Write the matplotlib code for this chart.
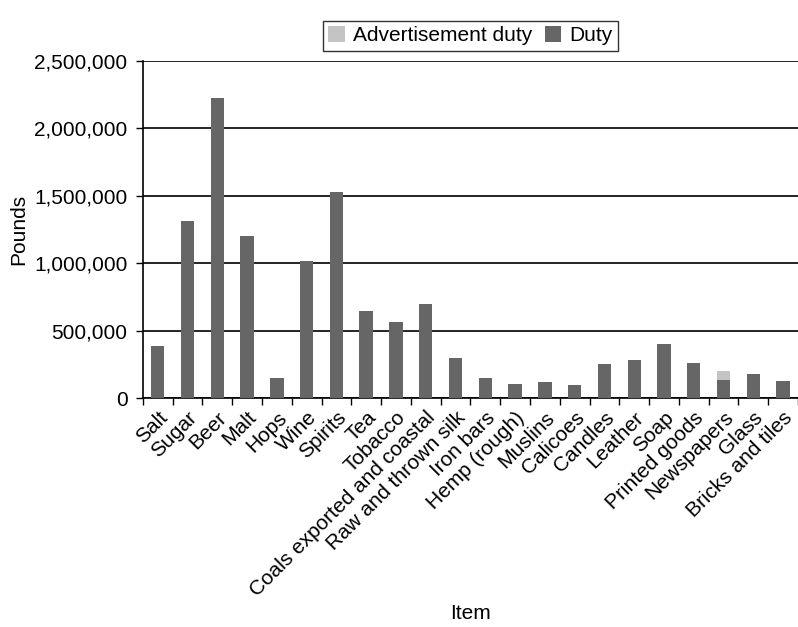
import matplotlib.pyplot as plt
import numpy as np
from matplotlib.ticker import FuncFormatter, FixedLocator

plt.rcParams['font.family'] = ['Liberation Sans', 'DejaVu Sans']
plt.rcParams['font.size'] = 15

items = ['Salt', 'Sugar', 'Beer', 'Malt', 'Hops', 'Wine', 'Spirits', 'Tea',
         'Tobacco', 'Coals exported and coastal', 'Raw and thrown silk',
         'Iron bars', 'Hemp (rough)', 'Muslins', 'Calicoes', 'Candles',
         'Leather', 'Soap', 'Printed goods', 'Newspapers', 'Glass',
         'Bricks and tiles']
duty = [383000, 1315000, 2228000, 1204000, 151000, 1019000, 1530000, 648000,
        566000, 700000, 299000, 148000, 103000, 118000, 95000, 253000,
        283000, 403000, 260000, 133000, 178000, 125000]
advert_duty = [0, 0, 0, 0, 0, 0, 0, 0, 0, 0, 0, 0, 0, 0, 0, 0,
               0, 0, 0, 67000, 0, 0]

fig = plt.figure(figsize=(7.98, 6.27), dpi=100)
ax = fig.add_axes([0.179, 0.365, 0.821, 0.538])

x = np.arange(len(items))
ax.bar(x, duty, width=0.45, color='#666666', label='Duty', zorder=3)
ax.bar(x, advert_duty, width=0.45, bottom=duty, color='#c4c4c4',
       label='Advertisement duty', zorder=3)

ax.set_xlim(-0.5, len(items) - 0.5)
ax.set_ylim(0, 2500000)
ax.set_yticks(np.arange(0, 2500001, 500000))
ax.yaxis.set_major_formatter(FuncFormatter(lambda v, p: f'{int(v):,}'))
ax.grid(axis='y', color='black', linewidth=1.2, zorder=1)

ax.set_xticks(x)
ax.set_xticklabels(items, rotation=45, ha='right', rotation_mode='anchor')
ax.xaxis.set_minor_locator(FixedLocator(np.arange(-0.5, len(items), 1)))
ax.tick_params(axis='x', which='major', length=0, pad=7)
ax.tick_params(axis='x', which='minor', length=5, width=1, direction='out')
ax.tick_params(axis='y', length=5, width=1, direction='out', pad=6)

for s in ['top', 'right']:
    ax.spines[s].set_visible(False)
ax.spines['left'].set_linewidth(1.2)
ax.spines['bottom'].set_linewidth(1.2)

ax.set_ylabel('Pounds', labelpad=4)
ax.set_xlabel('Item')
ax.xaxis.set_label_coords(0.5, -0.61)

handles, labels = ax.get_legend_handles_labels()
leg = ax.legend(handles[::-1], labels[::-1], loc='lower center',
                bbox_to_anchor=(0.5, 1.03), ncol=2, frameon=True,
                fancybox=False, edgecolor='black', handlelength=0.8,
                handleheight=0.8, handletextpad=0.4, columnspacing=0.6,
                borderpad=0.25, borderaxespad=0)
leg.get_frame().set_linewidth(1.0)

fig.savefig('out.png', dpi=100)
